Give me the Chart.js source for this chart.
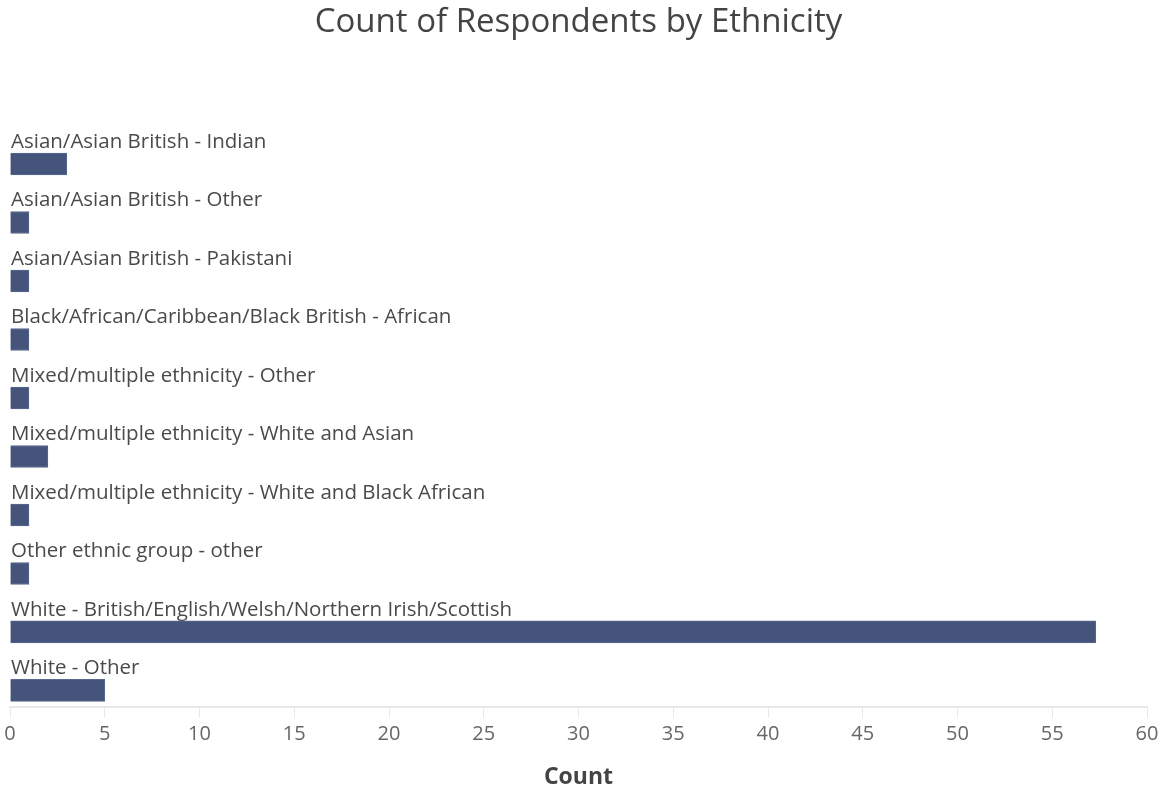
<!DOCTYPE html>
<html>
<head>
<meta charset="utf-8">
<script src="https://cdn.jsdelivr.net/npm/chart.js@4"></script>
<style>
html,body{margin:0;padding:0;background:#fff;}
#wrap{width:1160px;height:789px;position:relative;}
</style>
</head>
<body>
<div id="wrap"><canvas id="c" width="1160" height="789"></canvas></div>
<script>
const categories = [
  "Asian/Asian British - Indian",
  "Asian/Asian British - Other",
  "Asian/Asian British - Pakistani",
  "Black/African/Caribbean/Black British - African",
  "Mixed/multiple ethnicity - Other",
  "Mixed/multiple ethnicity - White and Asian",
  "Mixed/multiple ethnicity - White and Black African",
  "Other ethnic group - other",
  "White - British/English/Welsh/Northern Irish/Scottish",
  "White - Other"
];
const counts = [3, 1, 1, 1, 1, 2, 1, 1, 57.3, 5];
const xTicks = [0, 5, 10, 15, 20, 25, 30, 35, 40, 45, 50, 55, 60];

const labelFont = '20.5px "Open Sans", sans-serif';

const labelPlugin = {
  id: 'catLabels',
  afterDatasetsDraw(chart) {
    const ctx = chart.ctx;
    const yScale = chart.scales.y;
    const left = chart.chartArea.left;
    ctx.save();
    ctx.font = labelFont;
    ctx.fillStyle = '#4a4a4a';
    ctx.textBaseline = 'middle';
    ctx.textAlign = 'left';
    categories.forEach((c, i) => {
      const y = yScale.getPixelForValue(i);
      ctx.fillText(c, left + 1, y - 22);
    });
    ctx.restore();
  }
};

new Chart(document.getElementById('c'), {
  type: 'bar',
  data: {
    datasets: [{
      data: counts.map((v, i) => ({ x: v, y: i })),
      backgroundColor: '#45547a',
      borderColor: '#5a6890',
      borderWidth: 1,
      barThickness: 22
    }]
  },
  options: {
    indexAxis: 'y',
    responsive: false,
    animation: false,
    layout: { padding: { left: 10, right: 13, top: 0, bottom: 0 } },
    plugins: {
      legend: { display: false },
      tooltip: { enabled: false },
      title: {
        display: true,
        text: 'Count of Respondents by Ethnicity',
        font: { family: '"Open Sans", sans-serif', size: 33, weight: 'normal' },
        color: '#444',
        padding: { top: 3, bottom: 67.4 }
      }
    },
    scales: {
      y: {
        type: 'linear',
        reverse: true,
        offset: false,
        min: -0.924,
        max: 9.29,
        display: false
      },
      x: {
        type: 'linear',
        min: 0,
        max: 60,
        afterBuildTicks(scale) { scale.ticks = xTicks.map(v => ({ value: v })); },
        afterFit(scale) { scale.paddingLeft = 0; scale.paddingRight = 0; },
        grid: { drawOnChartArea: false, drawTicks: true, tickLength: 10, color: '#e8e8e8' },
        border: { color: '#e8e8e8', width: 2 },
        ticks: {
          font: { family: '"Open Sans", sans-serif', size: 20 },
          color: '#666',
          padding: 5,
          maxRotation: 0
        },
        title: {
          display: true,
          text: 'Count',
          font: { family: '"Open Sans", sans-serif', size: 23, weight: 'bold', lineHeight: 1 },
          color: '#444',
          padding: { top: 14.6, bottom: 0 }
        }
      }
    }
  },
  plugins: [labelPlugin]
});
</script>
</body>
</html>
